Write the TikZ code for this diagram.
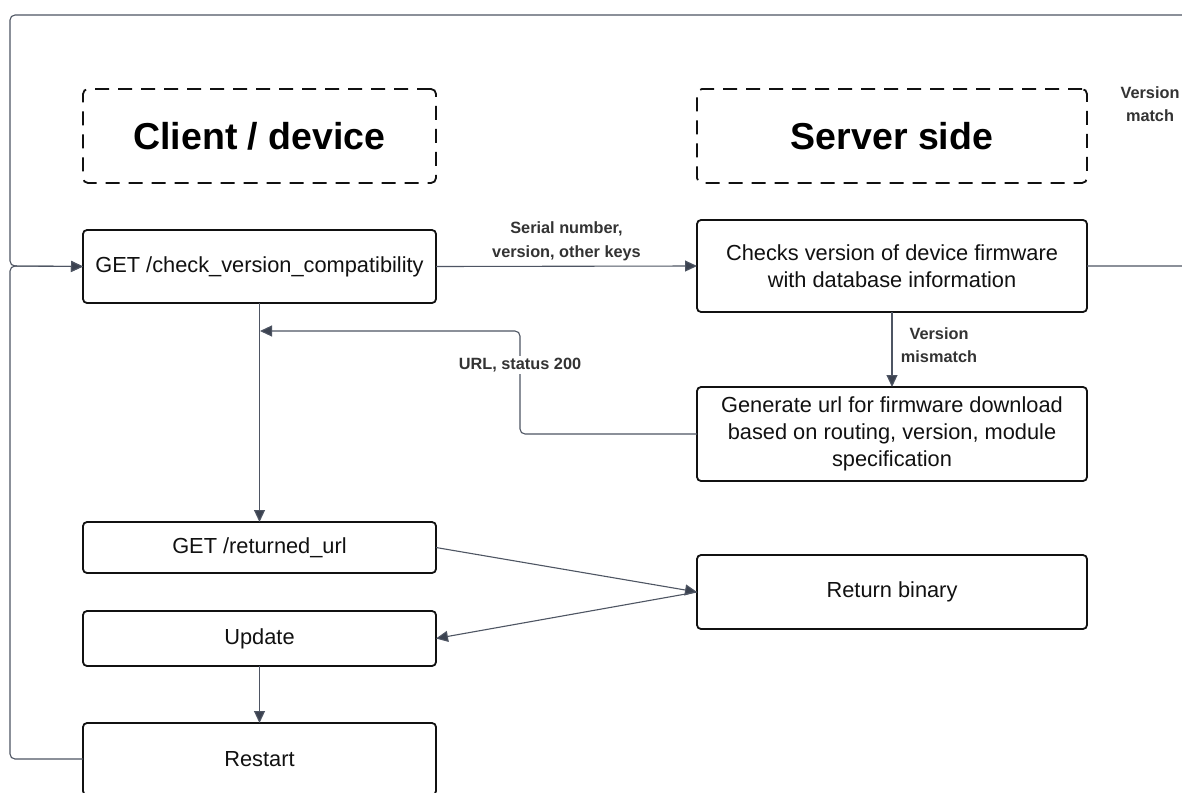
\documentclass[tikz,border=0pt]{standalone}
\usepackage{fontspec}
\setmainfont{Liberation Sans}
\usetikzlibrary{arrows.meta}

\definecolor{ink}{HTML}{111111}
\definecolor{wire}{HTML}{4E5563}
\definecolor{tip}{HTML}{3B4250}
\definecolor{lbltext}{HTML}{333333}

\tikzset{
  box/.style={draw=ink, line width=1.8pt, rounded corners=4pt, outer sep=0pt,
    inner sep=2pt, align=center, text=ink,
    font=\fontsize{21.8}{27.3}\selectfont},
  headbox/.style={draw=ink, line width=1.8pt, rounded corners=5pt, outer sep=0pt,
    dash pattern=on 14pt off 9pt, align=center, text=black,
    font=\fontsize{37.5}{44}\selectfont\bfseries},
  wireline/.style={draw=wire, line width=1.1pt, rounded corners=5pt},
  flow/.style={wireline, -{Triangle[length=12pt,width=11pt,fill=tip]}},
  lbl/.style={text=lbltext, align=center, inner sep=2pt,
    font=\fontsize{16.3}{23.5}\selectfont\bfseries},
}

\begin{document}
\begin{tikzpicture}[x=1pt, y=-1pt]
\path[use as bounding box, clip] (0,0) rectangle (1182,792);
\fill[white] (0,0) rectangle (1182,792);

% column headings
\node[headbox, minimum width=353pt, minimum height=94pt] (hclient) at (259.5,136) {Client / device};
\node[headbox, minimum width=390pt, minimum height=94pt] (hserver) at (892,136) {Server side};

% client-side steps
\node[box, minimum width=353pt, minimum height=73pt] (chk) at (259.5,266.5) {GET /check\_version\_compatibility};
\node[box, minimum width=353pt, minimum height=51pt] (ret) at (259.5,547.5) {GET /returned\_url};
\node[box, minimum width=353pt, minimum height=55pt] (upd) at (259.5,638.5) {Update};
\node[box, minimum width=353pt, minimum height=72pt] (rst) at (259.5,759) {Restart};

% server-side steps
\node[box, minimum width=390pt, minimum height=92pt] (srv) at (892,266) {Checks version of device firmware\\with database information};
\node[box, minimum width=390pt, minimum height=94pt] (gen) at (892,434) {Generate url for firmware download\\based on routing, version, module\\specification};
\node[box, minimum width=390pt, minimum height=74pt] (bin) at (892,592) {Return binary};

% loop-back corners
\coordinate (farR) at (1205,266);
\coordinate (farRT) at (1205,15);
\coordinate (topL) at (10,15);
\coordinate (joinL) at (10,266);
\coordinate (botL) at (10,759);
\coordinate (urlA) at (520,434);
\coordinate (urlB) at (520,331);
\coordinate (urlEnd) at (260,331);

% request to the server
\draw[flow] (chk.east) -- node[lbl, yshift=25pt] {Serial number,\\version, other keys} (srv.west);

% mismatch branch
\draw[flow] (srv.south) -- (gen.north);
\node[lbl] (mism) at (939,345) {Version\\mismatch};

% url returned to the client
\draw[flow] (gen.west) -- (urlA) -- (urlB) -- (urlEnd);
\node[lbl, fill=white] (urllbl) at (520,365) {URL, status 200};

% client sequence
\draw[flow] (chk.south) -- (ret.north);
\draw[flow] (ret.east) -- (bin.west);
\draw[flow] (bin.west) -- (upd.east);
\draw[flow] (upd.south) -- (rst.north);

% version match loops back to the start
\draw[flow] (srv.east) -- (farR) -- (farRT) -- (topL) -- (joinL) -- (chk.west);
\node[lbl] (match) at (1150,104) {Version\\match};

% restart loops back to the start
\draw[flow] (rst.west) -- (botL) -- (joinL) -- (chk.west);
\end{tikzpicture}
\end{document}
